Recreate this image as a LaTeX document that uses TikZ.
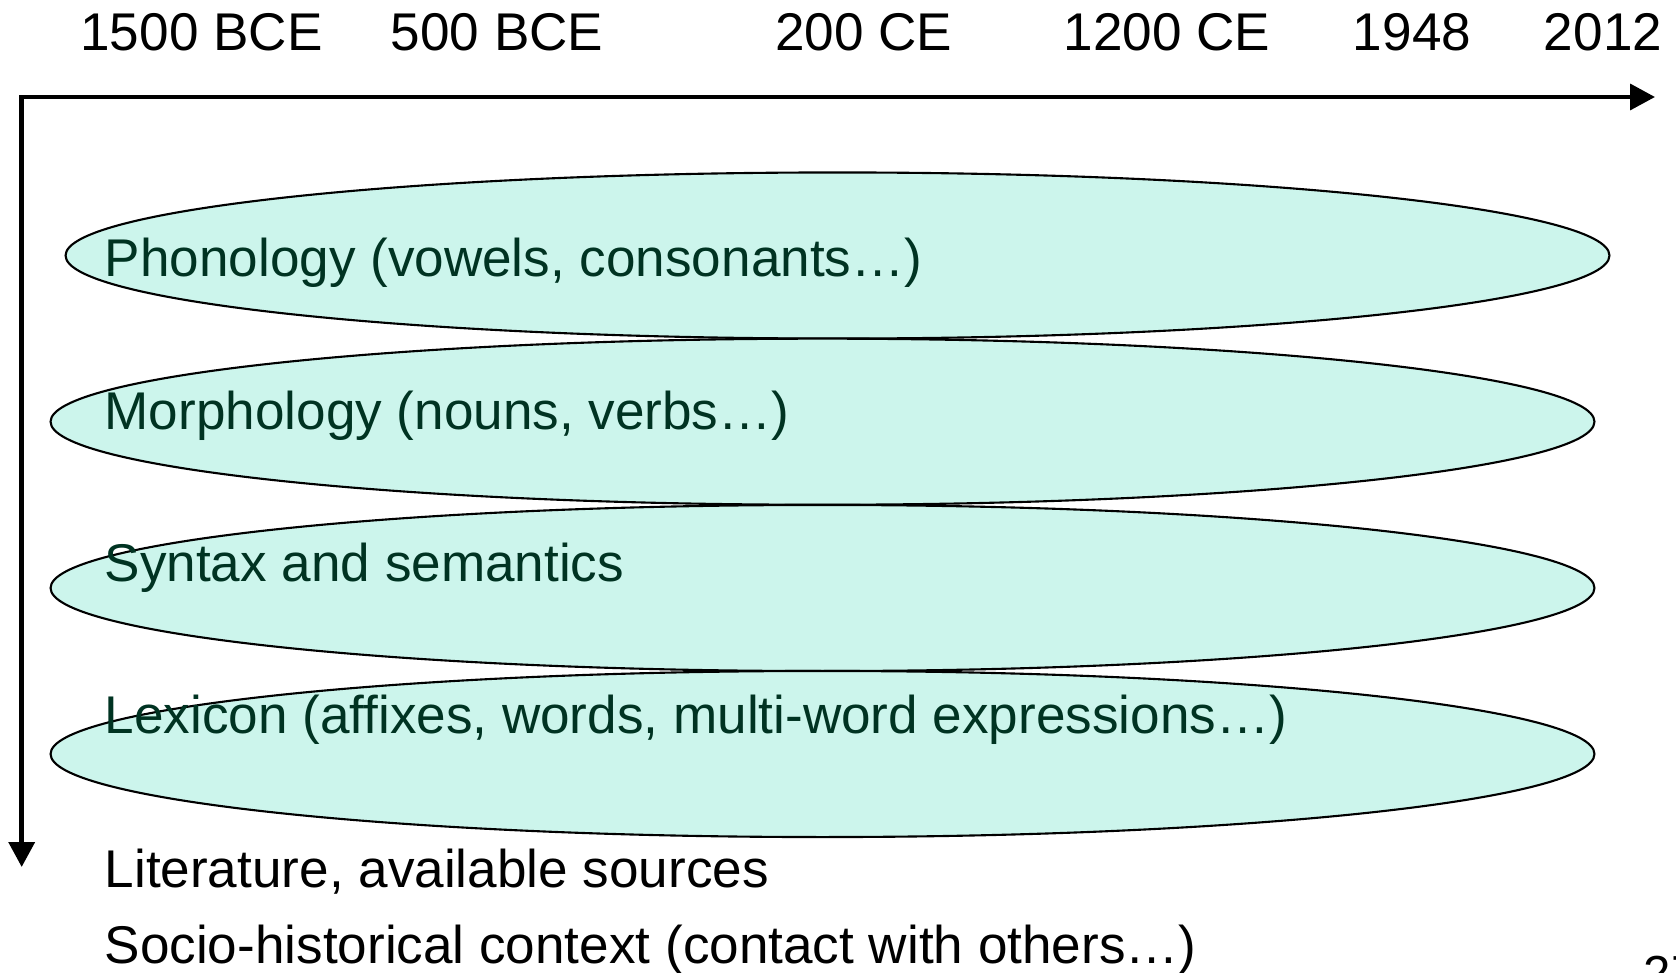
\documentclass[tikz,border=0pt]{standalone}
\usepackage{fontspec}
\setmainfont{Liberation Sans}
\usetikzlibrary{arrows.meta,shapes.geometric}
\definecolor{stratumfill}{HTML}{CCF5EC}
\definecolor{stratumtext}{HTML}{003322}
\tikzset{
  timeaxis/.style={line width=1.3pt,line cap=rect,-{Triangle[length=7.1pt,width=7.3pt]}},
  stratum/.style={ellipse,draw,line width=0.6pt,fill=stratumfill,minimum width=15.43cm,minimum height=1.66cm,inner sep=0pt},
  lbl/.style={anchor=base west,inner sep=0pt,font=\fontsize{15.1}{18}\selectfont},
  yearlbl/.style={anchor=base,inner sep=0pt,font=\fontsize{15.1}{18}\selectfont},
}
\begin{document}
\begin{tikzpicture}[x=0.01cm,y=-0.01cm]
  \useasboundingbox (0,0) rectangle (1676,973);
  % dates along the top
  \foreach \x/\yr [count=\i] in {201.5/1500 BCE,497/500 BCE,863.7/200 CE,1167/1200 CE,1412/1948,1603/2012}
    \node[yearlbl] (year\i) at (\x,51) {\yr};
  % axes
  \coordinate (origin) at (21.7,97);
  \coordinate (tend) at (1655,97);
  \coordinate (vend) at (21.7,867);
  \draw[timeaxis] (origin) -- (tend);
  \draw[timeaxis] (origin) -- (vend);
  % strata
  \node[stratum] (phon) at (837.5,255.5) {};
  \node[stratum] (morph) at (822.5,421.7) {};
  \node[stratum] (synt) at (822.5,588) {};
  \node[stratum] (lex) at (822.5,754) {};
  \node[lbl,text=stratumtext] (phontxt) at (104,276) {Phonology (vowels, consonants\ldots)};
  \node[lbl,text=stratumtext] (morphtxt) at (104,429) {Morphology (nouns, verbs\ldots)};
  \node[lbl,text=stratumtext] (synttxt) at (104,581) {Syntax and semantics};
  \node[lbl,text=stratumtext] (lextxt) at (104,733) {Lexicon (affixes, words, multi-word expressions\ldots)};
  \node[lbl] (littxt) at (104,887) {Literature, available sources};
  \node[lbl] (sociotxt) at (104,963) {Socio-historical context (contact with others\ldots)};
  \node[anchor=base west,inner sep=0pt,font=\fontsize{14}{16}\selectfont] (pagenum) at (1643,990) {27};
\end{tikzpicture}
\end{document}
